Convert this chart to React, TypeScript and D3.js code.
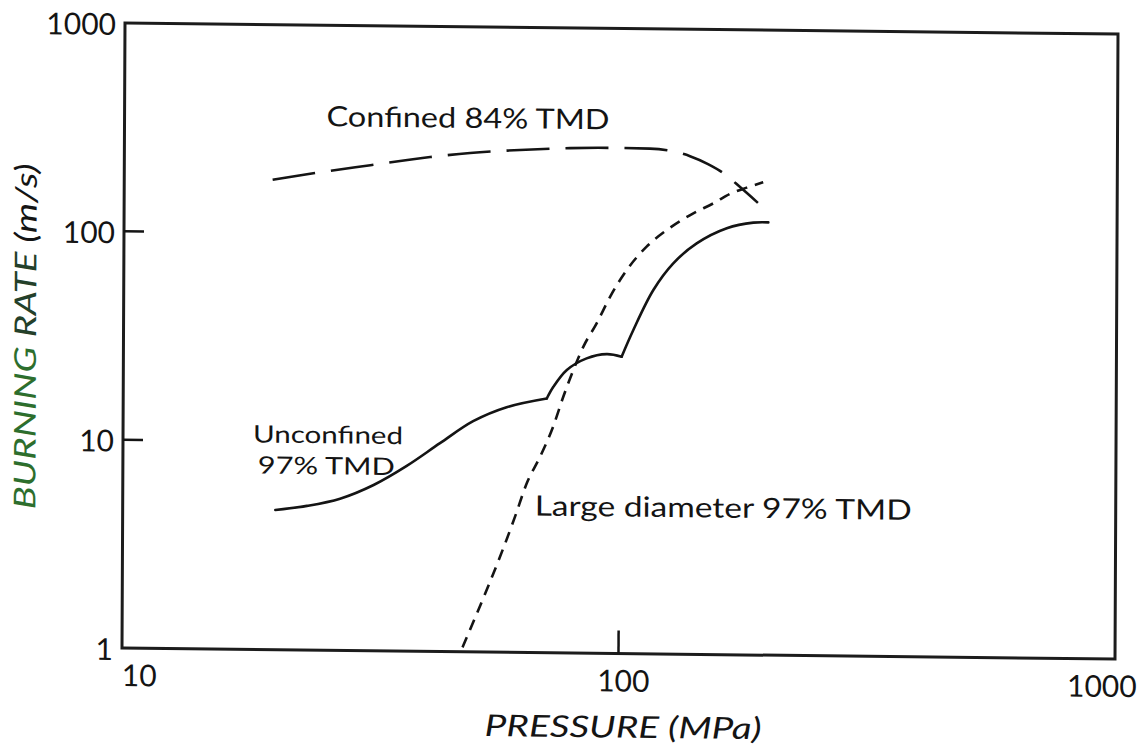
import React from "react";
import * as d3 from "d3";

// Plot frame size (inner coordinates)
const W = 993;
const H = 625;

// Axis ticks
const pressureTicks = [10, 100, 1000];
const rateTicks = [1, 10, 100, 1000];
const innerPressureTicks = [100];
const innerRateTicks = [10, 100];

// Unconfined 97% TMD (solid), three branches joined at sharp corners
const unconfinedA: [number, number][] = [
  [20.3, 4.68], [23.5, 4.92], [27.4, 5.35], [32.0, 6.25], [37.3, 7.75],
  [43.5, 10.0], [50.7, 12.8], [59.2, 15.0], [71.3, 16.6],
];
const unconfinedB: [number, number][] = [
  [71.3, 16.6], [73.5, 18.9], [78.2, 22.8], [85.7, 26.0], [94.1, 27.3], [100.8, 26.6],
];
const unconfinedC: [number, number][] = [
  [100.8, 26.6], [106.3, 35.7], [116.6, 55.8], [127.8, 75.1], [142.4, 93.9],
  [163.7, 111.4], [185.1, 118.9], [198.4, 119.5],
];

// Large diameter 97% TMD (short dashes)
const largeDiameter: [number, number][] = [
  [48.5, 1.05], [61.7, 4.48], [65.1, 6.49], [69.2, 8.71], [73.5, 12.2], [77.0, 17.0],
  [80.6, 22.8], [84.4, 29.6], [89.7, 38.3], [95.4, 51.5], [103.0, 69.3], [112.9, 90.0],
  [123.9, 108.4], [140.1, 130.9], [153.7, 146.5], [166.0, 163], [179.4, 175], [193.6, 186],
];

// Confined 84% TMD (long dashes)
const confined: [number, number][] = [
  [19.9, 180], [24.2, 195], [31.3, 214], [41.3, 236], [49.7, 248], [62.6, 258],
  [79.0, 265], [95.1, 267], [114.4, 266], [123.9, 262], [137.8, 246], [149.8, 226],
  [159.9, 207], [173.9, 176], [189.0, 148],
];

const FONT = "Lato, 'DejaVu Sans', sans-serif";
const INK = "#141414";

export default function App() {
  const x = d3.scaleLog().domain([10, 1000]).range([0, W]);
  const y = d3.scaleLog().domain([1, 1000]).range([H, 0]);
  const line = d3
    .line<[number, number]>()
    .x((d) => x(d[0]))
    .y((d) => y(d[1]))
    .curve(d3.curveMonotoneX);
  const smoothLine = d3
    .line<[number, number]>()
    .x((d) => x(d[0]))
    .y((d) => y(d[1]))
    .curve(d3.curveCatmullRom.alpha(0.5));

  const xLabelAnchor = (i: number) =>
    i === 0
      ? { anchor: "start", dx: 0 }
      : i === pressureTicks.length - 1
      ? { anchor: "middle", dx: -13 }
      : { anchor: "middle", dx: 5 };

  return (
    <svg
      width={1140}
      height={750}
      style={{ position: "absolute", left: 0, top: 0 }}
      fontFamily={FONT}
    >
      <rect width={1140} height={750} fill="#ffffff" />
      <g transform="matrix(1,0.0111,-0.0048,1,125,23)">
        {/* frame */}
        <rect x={0} y={0} width={W} height={H} fill="none" stroke="#1c1c1c" strokeWidth={3} />

        {/* inward ticks */}
        {innerRateTicks.map((t) => (
          <line key={"yt" + t} x1={0} x2={20} y1={y(t)} y2={y(t)} stroke={INK} strokeWidth={2.5} />
        ))}
        {innerPressureTicks.map((t) => (
          <line key={"xt" + t} x1={x(t)} x2={x(t)} y1={H} y2={H - 23} stroke={INK} strokeWidth={2.5} />
        ))}

        {/* tick labels */}
        {rateTicks.map((t) => (
          <text key={"yl" + t} x={-9} y={y(t)} textAnchor="end" dominantBaseline="central" fontSize={30} fill={INK}>
            {t}
          </text>
        ))}
        {pressureTicks.map((t, i) => {
          const a = xLabelAnchor(i);
          return (
            <text key={"xl" + t} x={x(t) + a.dx} y={H + 26} textAnchor={a.anchor} dominantBaseline="central" fontSize={30} fill={INK}>
              {t}
            </text>
          );
        })}

        {/* axis titles */}
        <text
          x={x(100) + 5}
          y={H + 84}
          textAnchor="middle"
          fontSize={30}
          fontStyle="italic"
          fill={INK}
          textLength={277}
          lengthAdjust="spacingAndGlyphs"
        >
          PRESSURE (MPa)
        </text>
        <text
          transform={`translate(-99.5,${H / 2 + 2}) rotate(-90)`}
          textAnchor="middle"
          dominantBaseline="central"
          fontSize={30}
          fontStyle="italic"
          textLength={346}
          lengthAdjust="spacingAndGlyphs"
        >
          <tspan fill="#2d6e2d">BURNING </tspan>
          <tspan fill="#24402a">RATE </tspan>
          <tspan fill={INK}>(m/s)</tspan>
        </text>

        {/* curves */}
        <path d={line(confined) ?? ""} fill="none" stroke={INK} strokeWidth={2.6} strokeDasharray="43 16" />
        <path d={line(largeDiameter) ?? ""} fill="none" stroke={INK} strokeWidth={2.6} strokeDasharray="11 8" />
        {[unconfinedA, unconfinedB, unconfinedC].map((seg, i) => (
          <path
            key={"u" + i}
            d={smoothLine(seg) ?? ""}
            fill="none"
            stroke={INK}
            strokeWidth={2.6}
            strokeLinejoin="round"
            strokeLinecap="round"
          />
        ))}

        {/* curve labels */}
        <text x={202} y={101} fontSize={28} fill={INK} textLength={283} lengthAdjust="spacingAndGlyphs">
          Confined  84% TMD
        </text>
        <text x={130} y={418} fontSize={24} fill={INK} textLength={150} lengthAdjust="spacingAndGlyphs">
          Unconfined
        </text>
        <text x={135} y={449} fontSize={24} fill={INK} textLength={137} lengthAdjust="spacingAndGlyphs">
          97% TMD
        </text>
        <text x={412} y={488} fontSize={28} fill={INK} textLength={377} lengthAdjust="spacingAndGlyphs">
          Large diameter 97% TMD
        </text>
      </g>
    </svg>
  );
}
